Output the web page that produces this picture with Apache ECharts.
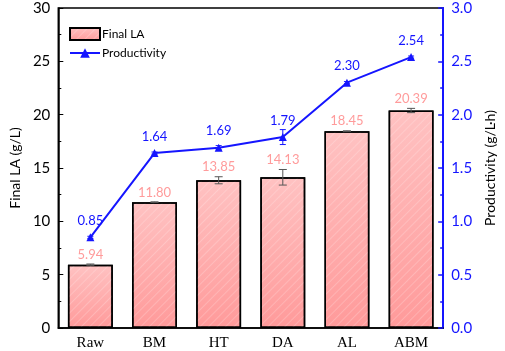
<!DOCTYPE html>
<html><head><meta charset="utf-8">
<script src="https://cdn.jsdelivr.net/npm/echarts@6/dist/echarts.min.js"></script>
<style>html,body{margin:0;padding:0;background:#fff}#c{width:505px;height:351px}</style>
</head><body><div id="c"></div>
<script>
const categories = ['Raw','BM','HT','DA','AL','ABM'];
const finalLA = [5.94, 11.80, 13.85, 14.13, 18.45, 20.39];
const finalLAErr = [0.06, 0.03, 0.33, 0.73, 0.04, 0.2];
const productivity = [0.85, 1.64, 1.69, 1.79, 2.30, 2.54];
const productivityErr = [0.01, 0.01, 0.02, 0.07, 0.01, 0.01];
const leftTicks = [0, 5, 10, 15, 20, 25, 30];
const rightTicks = [0, 0.5, 1.0, 1.5, 2.0, 2.5, 3.0];

const chart = echarts.init(document.getElementById('c'));
function errItem(color, capW) {
  return function (params, api) {
    const x = api.value(0), lo = api.value(1), hi = api.value(2);
    const p1 = api.coord([x, lo]), p2 = api.coord([x, hi]);
    const st = { stroke: color, lineWidth: 1 };
    return { type: 'group', children: [
      { type: 'line', shape: { x1: p1[0], y1: p1[1], x2: p2[0], y2: p2[1] }, style: st },
      { type: 'line', shape: { x1: p1[0]-capW, y1: p1[1], x2: p1[0]+capW, y2: p1[1] }, style: st },
      { type: 'line', shape: { x1: p2[0]-capW, y1: p2[1], x2: p2[0]+capW, y2: p2[1] }, style: st }
    ]};
  };
}
const font = 'Lato, "Open Sans", sans-serif';
const pxPerUnit = 320 / 30;
const opt = {
  animation: false,
  grid: { left: 52, right: 54, top: 8, bottom: 23, show: true, borderColor: '#000', borderWidth: 1.5 },
  legend: {
    orient: 'vertical', left: 64, top: 22, itemWidth: 30, itemHeight: 12, itemGap: 6,
    textStyle: { fontFamily: font, fontSize: 12, color: '#000', padding: [0,0,0,-3] },
    data: [{ name: 'Final LA', icon: 'rect' }, { name: 'Productivity' }]
  },
  xAxis: [{
    type: 'category', data: categories,
    axisLine: { lineStyle: { color: '#000', width: 1.5 } },
    axisTick: { inside: true, alignWithLabel: true, length: 5, lineStyle: { color: '#000', width: 1 } },
    axisLabel: { fontFamily: '"Liberation Serif", serif', fontSize: 15, color: '#000', margin: 8 }
  }, {
    type: 'category', data: categories, position: 'bottom',
    axisLine: { show: false },
    axisTick: { inside: true, length: 3, lineStyle: { color: '#000', width: 1 } },
    axisLabel: { show: false }
  }],
  yAxis: [{
    type: 'value', min: 0, max: 30, interval: 5,
    name: 'Final LA (g/L)', nameLocation: 'middle', nameGap: 32,
    nameTextStyle: { fontFamily: font, fontSize: 14, color: '#000' },
    axisLine: { show: true, lineStyle: { color: '#000', width: 1.5 } },
    axisTick: { show: true, inside: true, length: 5, lineStyle: { color: '#000' } },
    minorTick: { show: true, splitNumber: 2, length: 3, lineStyle: { color: '#000' } },
    splitLine: { show: false },
    axisLabel: { fontFamily: font, fontSize: 15, color: '#000', margin: 8, formatter: v => leftTicks.includes(v) ? String(v) : '' }
  }, {
    type: 'value', min: 0, max: 3, interval: 0.5, position: 'right',
    name: 'Productivity (g/L·h)', nameLocation: 'middle', nameGap: 37, nameRotate: 90,
    nameTextStyle: { fontFamily: font, fontSize: 14, color: '#000' },
    axisLine: { show: true, lineStyle: { color: '#1515ff', width: 2 } },
    axisTick: { show: true, inside: true, length: 5, lineStyle: { color: '#1515ff', width: 1.5 } },
    minorTick: { show: true, splitNumber: 2, length: 3, lineStyle: { color: '#1515ff', width: 1.5 } },
    splitLine: { show: false },
    axisLabel: { fontFamily: font, fontSize: 15, color: '#1515ff', margin: 8, formatter: v => rightTicks.includes(v) ? v.toFixed(1) : '' }
  }],
  series: [{
    name: 'Final LA', type: 'bar', barWidth: '70%', yAxisIndex: 0,
    data: finalLA.map((v, i) => ({ value: v, label: { distance: 3 + finalLAErr[i] * pxPerUnit } })),
    itemStyle: {
      color: new echarts.graphic.LinearGradient(0, 0, 0, 1, [{ offset: 0, color: '#ffc2c2' }, { offset: 1, color: '#ff9a9a' }]),
      borderColor: '#000', borderWidth: 1.5,
      decal: { symbol: 'rect', symbolSize: 1, dashArrayX: [1, 0], dashArrayY: [1, 5], rotation: -Math.PI / 4, color: 'rgba(255,255,255,0.2)' }
    },
    label: { show: true, position: 'top', color: '#ff9b9b', fontFamily: font, fontSize: 13, formatter: p => p.value.toFixed(2) },
    z: 2
  }, {
    name: 'barErr', type: 'custom', yAxisIndex: 0,
    data: finalLA.map((v, i) => [i, v - finalLAErr[i], v + finalLAErr[i]]),
    renderItem: errItem('#555', 4), z: 3, silent: true
  }, {
    name: 'Productivity', type: 'line', data: productivity, yAxisIndex: 1,
    symbol: 'triangle', symbolSize: 8,
    lineStyle: { color: '#1515ff', width: 2 }, itemStyle: { color: '#1515ff' },
    label: { show: true, position: 'top', distance: 6, color: '#1515ff', fontFamily: font, fontSize: 13, formatter: p => p.value.toFixed(2) },
    z: 5
  }, {
    name: 'lineErr', type: 'custom', yAxisIndex: 1,
    data: productivity.map((v, i) => [i, v - productivityErr[i], v + productivityErr[i]]),
    renderItem: errItem('#1515ff', 3), z: 4, silent: true
  }]
};
chart.setOption(opt);
</script></body></html>
